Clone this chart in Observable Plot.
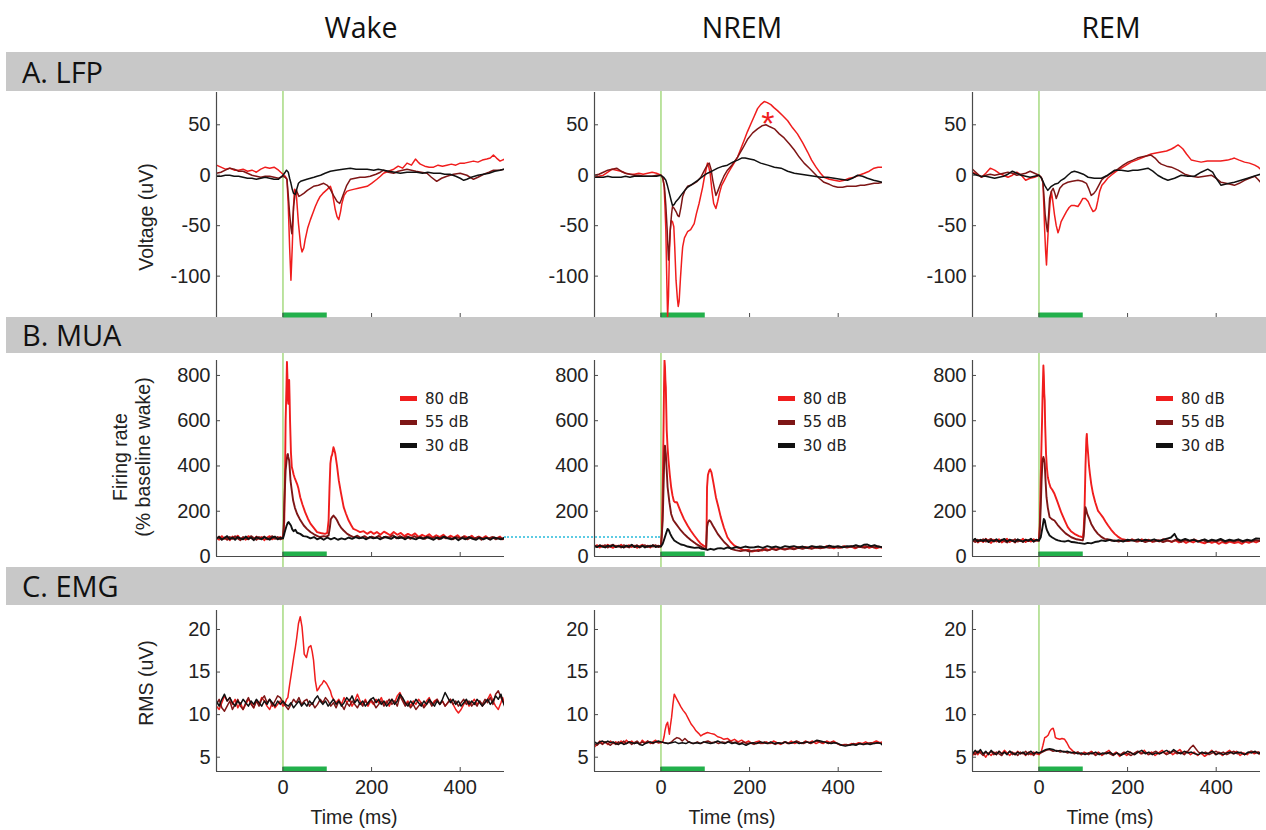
<!DOCTYPE html>
<html><head><meta charset="utf-8">
<script src="https://cdn.jsdelivr.net/npm/d3@7"></script>
<script src="https://cdn.jsdelivr.net/npm/@observablehq/plot@0.6"></script>
<style>
body{margin:0;background:#fff;}
#fig{position:relative;width:1266px;height:830px;overflow:hidden;font-family:"Liberation Sans",Arial,sans-serif;}
.band{position:absolute;left:6px;right:0;background:#c8c8c8;z-index:0;}
.band span{position:absolute;left:16px;top:50%;transform:translateY(-52%);font-family:"Open Sans";font-size:29px;color:#111;}
.head{position:absolute;top:8px;font-family:"Open Sans";font-size:28.5px;transform:translateX(-50%);color:#111;white-space:nowrap}
.panel{position:absolute;z-index:1;}
.panel svg{max-width:none !important;}
.ylab{position:absolute;font-size:19.5px;transform:translate(-50%,-50%) rotate(-90deg);white-space:nowrap;text-align:center;line-height:1.2;color:#222}
.xlab{position:absolute;font-size:19.5px;transform:translateX(-50%);color:#222;white-space:nowrap}
.legend{position:absolute;font-family:"DejaVu Sans";font-size:15px;color:#222;z-index:2}
.legend div{display:flex;align-items:center;height:23.5px;white-space:nowrap}
.legend i{display:inline-block;width:17px;height:5px;margin-right:8px}
.dots{position:absolute;height:0;border-top:2.5px dotted #5ccbe3;z-index:3}
</style></head>
<body><div id="fig"></div>
<script>
// ---------- data ----------
const STATES = ["Wake", "NREM", "REM"];
const ROW_TITLES = ["A. LFP", "B. MUA", "C. EMG"];
const LEVELS = ["80 dB", "55 dB", "30 dB"];
const LEVEL_COLORS = ["#f01d1d", "#7e1616", "#111111"];
const TIME_DOMAIN = [-150, 500];
const TIME_TICKS = [0, 200, 400];
const TIME_TICK_LABELS = ["0", "200", "400"];
const STIM = [0, 100];
const LFP_DOMAIN = [-141, 82];
const LFP_TICKS = [-100, -50, 0, 50];
const LFP_TICK_LABELS = ["-100", "-50", "0", "50"];
const MUA_DOMAIN = [0, 866];
const MUA_TICKS = [0, 200, 400, 600, 800];
const MUA_TICK_LABELS = ["0", "200", "400", "600", "800"];
const EMG_DOMAIN = [3.32, 22.23];
const EMG_TICKS = [5, 10, 15, 20];
const EMG_TICK_LABELS = ["5", "10", "15", "20"];
const BASELINE_WAKE = 84;
const LFP_NREM_STAR = [[241, 59]];

const lfpWake80 = [[-150,10],[-140,8],[-130,6],[-120,7],[-110,5],[-100,5],[-90,6],[-80,4],[-70,5],[-60,3],[-50,6],[-40,8],[-30,7],[-20,8],[-10,5],[0,1],[5,-1],[9,-4],[12,-30],[15,-71],[18,-104],[21,-71],[24,-30],[26,-14],[30,-18],[35,-48],[40,-70],[43,-76],[47,-72],[50,-64],[56,-52],[62,-44],[68,-37],[73,-31],[78,-26],[84,-21],[90,-18],[95,-16],[100,-14],[107,-11],[111,-16],[114,-24],[118,-34],[122,-41],[126,-44],[130,-36],[133,-28],[138,-20],[144,-16],[150,-15],[159,-14],[170,-13],[180,-12],[190,-11],[200,-8],[212,-4],[220,-1],[227,2],[238,4],[250,6],[260,9],[270,7],[280,12],[290,10],[299,16],[305,13],[310,11],[320,9],[330,8],[340,8],[350,10],[360,9],[370,10],[380,11],[390,10],[400,12],[410,12],[420,13],[430,14],[440,13],[450,15],[460,16],[468,17],[475,20],[482,17],[490,14],[495,15],[500,16]];
const lfpWake55 = [[-150,2],[-140,3],[-130,5],[-120,7],[-110,6],[-100,4],[-90,4],[-80,2],[-70,0],[-60,-1],[-50,-2],[-40,-1],[-30,-1],[-20,-2],[-10,-3],[0,-1],[5,-2],[9,-4],[12,-20],[15,-38],[18,-52],[20,-58],[22,-45],[24,-31],[27,-20],[30,-14],[33,-18],[36,-21],[40,-20],[47,-18],[55,-15],[62,-13],[69,-11],[80,-10],[92,-8],[100,-10],[107,-14],[114,-20],[122,-26],[128,-28],[132,-24],[137,-18],[144,-10],[152,-4],[163,-3],[174,-2],[185,-2],[197,-1],[210,1],[220,3],[227,5],[238,3],[250,2],[260,4],[270,5],[280,6],[290,5],[300,4],[312,3],[325,2],[335,-2],[347,-6],[358,-3],[370,-1],[385,1],[400,2],[415,0],[430,-4],[440,-2],[453,1],[465,3],[475,5],[488,5],[500,6]];
const lfpWake30 = [[-150,-1],[-140,-1],[-130,0],[-120,0],[-110,-1],[-100,-1],[-90,-2],[-80,-3],[-70,-3],[-60,-4],[-50,-3],[-40,-2],[-30,-3],[-20,-4],[-10,-4],[0,0],[5,3],[8,5],[12,3],[15,-3],[18,-8],[21,-14],[24,-18],[28,-19],[31,-14],[35,-8],[40,-6],[47,-5],[54,-4],[62,-3],[70,-2],[77,-1],[85,0],[95,2],[107,4],[120,5],[135,6],[152,7],[165,6],[177,6],[190,6],[205,5],[215,6],[227,5],[240,4],[252,3],[265,2],[280,3],[290,3],[302,3],[315,2],[327,3],[340,2],[355,2],[365,1],[377,1],[390,-1],[400,-3],[408,-5],[415,-4],[425,-2],[440,0],[453,1],[465,2],[478,4],[490,5],[500,6]];

const lfpNrem80 = [[-150,-2],[-140,-1],[-130,0],[-120,3],[-110,6],[-100,5],[-90,4],[-80,2],[-70,1],[-60,1],[-50,2],[-40,1],[-30,2],[-20,3],[-10,2],[0,0],[4,-2],[7,-10],[9,-30],[11,-54],[13,-100],[15,-140],[17,-120],[19,-78],[21,-55],[23,-45],[26,-46],[29,-51],[31,-70],[34,-104],[37,-122],[39,-130],[41,-125],[44,-102],[47,-82],[49,-71],[53,-62],[60,-56],[67,-54],[75,-48],[80,-38],[86,-28],[90,-20],[94,-12],[98,-2],[102,6],[105,12],[108,8],[111,2],[115,-15],[119,-28],[124,-33],[128,-26],[132,-18],[137,-10],[143,-5],[150,1],[158,7],[165,12],[173,18],[180,26],[188,35],[195,43],[203,51],[210,58],[218,66],[225,70],[233,73],[240,72],[248,70],[255,67],[263,64],[275,59],[286,54],[297,47],[308,41],[320,32],[331,23],[340,15],[350,8],[360,2],[368,-2],[380,-4],[391,-5],[403,-6],[414,-5],[425,-3],[436,-2],[447,0],[459,2],[470,4],[481,7],[490,8],[500,8]];
const lfpNrem55 = [[-150,0],[-140,1],[-130,3],[-120,5],[-110,6],[-100,7],[-90,4],[-80,2],[-70,1],[-60,0],[-50,0],[-40,-1],[-30,-1],[-20,-1],[-10,0],[0,0],[4,-3],[8,-12],[11,-30],[14,-54],[16,-75],[17,-84],[19,-70],[21,-54],[24,-38],[26,-31],[30,-33],[34,-36],[38,-40],[41,-41],[45,-32],[49,-21],[54,-15],[60,-11],[67,-10],[75,-8],[82,-6],[90,-2],[96,3],[102,8],[106,11],[109,12],[113,6],[117,-5],[121,-14],[124,-20],[128,-16],[135,-8],[142,-1],[150,5],[160,10],[173,18],[185,27],[196,36],[207,42],[218,46],[228,49],[237,50],[246,48],[256,46],[267,41],[278,37],[290,31],[301,25],[312,18],[323,12],[335,7],[346,2],[357,-3],[368,-7],[380,-9],[390,-11],[399,-12],[410,-12],[420,-11],[429,-11],[440,-11],[450,-10],[459,-10],[470,-9],[481,-8],[490,-8],[500,-7]];
const lfpNrem30 = [[-150,-2],[-140,-2],[-130,-2],[-120,-1],[-110,-2],[-100,-2],[-90,-2],[-80,-1],[-70,-2],[-60,-1],[-50,-1],[-40,-1],[-30,-1],[-20,-1],[-10,-1],[0,0],[6,-2],[11,-5],[15,-11],[19,-18],[23,-25],[26,-30],[30,-29],[34,-26],[40,-23],[45,-20],[52,-16],[60,-12],[70,-9],[83,-5],[95,-1],[105,2],[115,4],[128,7],[140,9],[150,10],[162,13],[173,15],[182,17],[190,17],[200,16],[211,15],[225,12],[241,10],[256,8],[271,7],[286,4],[301,2],[316,1],[331,0],[346,-1],[361,-2],[376,-2],[391,-3],[405,-4],[421,-5],[432,-3],[444,0],[455,-1],[466,-3],[480,-5],[490,-6],[500,-7]];

const lfpRem80 = [[-150,3],[-140,1],[-130,-2],[-120,2],[-110,7],[-100,5],[-90,2],[-80,0],[-70,-2],[-60,0],[-50,3],[-40,0],[-30,-5],[-20,-3],[-10,-2],[0,0],[5,-2],[9,-7],[11,-30],[13,-56],[15,-75],[17,-89],[19,-70],[22,-46],[25,-28],[28,-16],[31,-25],[35,-39],[39,-50],[43,-57],[46,-53],[50,-46],[56,-41],[62,-36],[68,-32],[73,-30],[80,-30],[88,-31],[94,-27],[99,-23],[105,-23],[111,-26],[116,-31],[122,-36],[126,-35],[129,-33],[133,-25],[137,-16],[142,-10],[148,-7],[155,-3],[163,0],[175,4],[186,7],[197,10],[208,13],[220,15],[231,17],[242,19],[253,21],[264,22],[276,23],[288,24],[299,26],[307,28],[314,30],[320,28],[325,26],[333,21],[344,15],[355,14],[366,13],[380,14],[396,14],[410,14],[426,15],[434,16],[441,17],[452,15],[464,13],[475,12],[487,10],[495,8],[500,6]];
const lfpRem55 = [[-150,6],[-140,2],[-130,-2],[-120,0],[-110,1],[-100,0],[-90,1],[-80,2],[-70,3],[-60,2],[-50,0],[-40,1],[-30,2],[-20,4],[-10,2],[0,0],[5,-2],[9,-7],[12,-25],[14,-39],[17,-50],[19,-56],[21,-45],[24,-23],[28,-16],[32,-13],[36,-18],[39,-23],[43,-18],[47,-13],[55,-9],[65,-7],[75,-6],[88,-5],[98,-6],[107,-8],[112,-13],[118,-20],[124,-18],[129,-15],[135,-10],[141,-5],[148,-2],[156,0],[167,3],[178,6],[190,10],[201,13],[212,15],[222,17],[231,18],[242,19],[253,20],[262,17],[270,13],[276,11],[288,9],[299,8],[314,5],[329,1],[344,-1],[359,-2],[374,-1],[389,0],[400,-3],[411,-7],[422,-8],[432,-9],[441,-10],[452,-8],[464,-5],[475,-3],[487,-1],[494,-4],[500,-7]];
const lfpRem30 = [[-150,2],[-140,0],[-130,-1],[-120,-1],[-110,-2],[-100,-3],[-90,-2],[-80,-1],[-70,1],[-60,4],[-50,2],[-40,0],[-30,-1],[-20,-2],[-10,-1],[0,0],[6,-3],[10,-7],[13,-10],[17,-13],[20,-15],[24,-13],[28,-11],[35,-9],[43,-8],[50,-5],[58,-3],[65,0],[73,3],[80,4],[88,3],[100,1],[111,-2],[125,-3],[141,-3],[155,0],[171,5],[186,5],[201,4],[212,5],[223,5],[235,6],[246,7],[257,4],[268,0],[280,-3],[291,-5],[306,-3],[321,0],[336,-1],[351,-1],[366,3],[381,6],[392,3],[400,-3],[411,-10],[420,-9],[430,-8],[441,-7],[456,-5],[471,-3],[485,-1],[500,1]];

const muaWake80 = [[-150,82],[-144,74],[-138,90],[-132,78],[-126,86],[-120,72],[-114,88],[-108,80],[-102,92],[-96,76],[-90,84],[-84,74],[-78,90],[-72,82],[-66,76],[-60,88],[-54,78],[-48,86],[-42,72],[-36,84],[-30,90],[-24,76],[-18,84],[-12,78],[-6,86],[0,80],[2,120],[3,160],[5,420],[6,600],[8,760],[9,860],[10,800],[11,700],[12,675],[13,740],[14,780],[15,700],[16,600],[17,530],[18,460],[20,395],[22,380],[24,362],[26,350],[28,340],[30,330],[32,320],[35,300],[39,262],[44,230],[50,196],[56,168],[62,145],[70,125],[77,108],[85,104],[95,100],[100,104],[103,160],[105,300],[107,410],[109,440],[111,450],[114,483],[116,470],[118,455],[122,400],[126,336],[131,280],[137,218],[142,190],[148,160],[154,138],[159,122],[166,116],[174,108],[182,112],[190,100],[198,110],[205,100],[212,108],[220,96],[228,110],[235,102],[242,94],[250,108],[258,96],[266,104],[274,90],[282,100],[290,92],[298,102],[306,86],[314,96],[322,88],[330,98],[338,84],[346,94],[354,86],[362,96],[370,82],[378,92],[386,84],[394,94],[402,80],[410,90],[418,82],[426,92],[434,78],[442,88],[450,80],[458,90],[466,76],[474,86],[482,80],[490,88],[496,76],[500,84]];
const muaWake55 = [[-150,78],[-144,88],[-138,76],[-132,84],[-126,74],[-120,86],[-114,78],[-108,90],[-102,80],[-96,72],[-90,86],[-84,80],[-78,76],[-72,90],[-66,82],[-60,74],[-54,86],[-48,80],[-42,88],[-36,76],[-30,82],[-24,90],[-18,78],[-12,86],[-6,76],[0,82],[2,150],[3,232],[5,330],[6,380],[8,420],[10,450],[11,453],[12,440],[14,424],[15,400],[17,336],[20,290],[23,247],[27,215],[32,188],[38,165],[47,137],[54,122],[62,108],[70,98],[78,90],[84,86],[92,90],[98,88],[103,93],[106,130],[108,165],[111,174],[114,181],[118,172],[122,160],[127,140],[132,125],[137,115],[145,100],[152,92],[160,85],[168,92],[176,82],[184,90],[192,80],[200,88],[208,82],[216,92],[224,80],[232,88],[240,84],[248,94],[256,80],[264,90],[272,82],[280,88],[288,78],[296,90],[304,82],[312,86],[320,78],[328,88],[336,80],[344,86],[352,76],[360,88],[368,80],[376,84],[384,76],[392,86],[400,80],[408,88],[416,76],[424,84],[432,80],[440,86],[448,74],[456,84],[464,80],[472,86],[480,76],[488,84],[496,78],[500,82]];
const muaWake30 = [[-150,80],[-144,86],[-138,74],[-132,82],[-126,90],[-120,76],[-114,84],[-108,74],[-102,86],[-96,80],[-90,76],[-84,88],[-78,78],[-72,84],[-66,72],[-60,86],[-54,80],[-48,76],[-42,86],[-36,80],[-30,74],[-24,84],[-18,88],[-12,76],[-6,82],[0,80],[3,100],[5,115],[8,135],[11,150],[13,152],[15,145],[18,137],[21,120],[24,112],[28,118],[32,105],[39,100],[46,90],[54,88],[62,80],[70,86],[77,76],[85,82],[92,74],[100,84],[108,76],[116,82],[124,74],[132,80],[140,76],[148,84],[156,78],[164,86],[172,80],[180,84],[188,76],[196,86],[204,80],[212,84],[220,76],[228,86],[236,82],[244,78],[252,88],[260,80],[268,84],[276,76],[284,86],[292,80],[300,76],[308,84],[316,78],[324,86],[332,80],[340,74],[348,84],[356,78],[364,88],[372,80],[380,76],[388,84],[396,72],[404,82],[412,76],[420,86],[428,78],[436,74],[444,84],[452,76],[460,82],[468,74],[476,84],[484,80],[492,76],[500,82]];

const muaNrem80 = [[-150,44],[-144,50],[-138,40],[-132,48],[-126,42],[-120,52],[-114,44],[-108,38],[-102,48],[-96,44],[-90,52],[-84,40],[-78,46],[-72,50],[-66,42],[-60,48],[-54,38],[-48,46],[-42,52],[-36,42],[-30,48],[-24,40],[-18,50],[-12,44],[-6,48],[0,44],[2,100],[4,306],[6,600],[7,760],[8,866],[9,840],[10,780],[11,748],[12,650],[13,557],[15,480],[17,424],[20,360],[23,306],[26,270],[29,245],[32,240],[36,240],[40,220],[45,196],[52,165],[60,137],[67,115],[75,93],[82,75],[90,56],[96,48],[102,41],[103,120],[104,306],[106,360],[109,380],[111,385],[114,372],[118,330],[124,262],[130,215],[135,174],[142,128],[150,85],[157,65],[165,49],[175,38],[188,27],[198,30],[205,22],[211,24],[220,30],[228,26],[236,34],[244,28],[252,36],[260,30],[268,38],[276,32],[286,34],[294,40],[302,34],[310,42],[318,36],[326,42],[334,36],[342,44],[350,38],[358,44],[366,38],[374,46],[382,40],[390,36],[398,44],[406,38],[414,46],[422,40],[430,44],[438,36],[446,44],[454,40],[462,46],[470,38],[478,44],[486,36],[494,42],[500,38]];
const muaNrem55 = [[-150,48],[-144,42],[-138,50],[-132,44],[-126,50],[-120,40],[-114,48],[-108,52],[-102,42],[-96,48],[-90,40],[-84,50],[-78,44],[-72,40],[-66,50],[-60,44],[-54,50],[-48,40],[-42,46],[-36,50],[-30,42],[-24,48],[-18,44],[-12,50],[-6,42],[0,46],[2,100],[4,160],[6,320],[8,468],[9,490],[10,470],[11,453],[13,380],[15,306],[19,240],[23,188],[28,160],[34,144],[40,128],[45,115],[52,100],[60,85],[68,72],[79,56],[88,46],[99,34],[102,36],[103,80],[104,130],[106,150],[109,160],[112,155],[117,137],[122,120],[128,100],[135,82],[143,63],[150,50],[158,34],[168,28],[180,24],[190,28],[200,22],[211,27],[220,24],[230,32],[240,26],[250,34],[260,28],[270,36],[280,30],[290,36],[300,32],[310,38],[320,34],[330,40],[340,34],[350,40],[360,36],[370,42],[380,38],[390,44],[400,38],[410,44],[420,40],[430,46],[440,40],[450,44],[460,38],[470,46],[480,40],[490,44],[500,41]];
const muaNrem30 = [[-150,46],[-144,42],[-138,48],[-132,44],[-126,40],[-120,48],[-114,44],[-108,50],[-102,42],[-96,46],[-90,44],[-84,40],[-78,48],[-72,44],[-66,52],[-60,42],[-54,46],[-48,42],[-42,48],[-36,40],[-30,46],[-24,44],[-18,50],[-12,42],[-6,46],[0,44],[4,56],[8,80],[12,105],[15,122],[18,115],[21,100],[25,85],[30,71],[37,62],[45,53],[52,50],[60,44],[68,41],[76,38],[84,40],[92,34],[100,32],[105,29],[112,34],[120,30],[128,36],[135,37],[142,34],[150,40],[160,36],[170,42],[180,38],[190,44],[200,40],[211,41],[220,44],[230,38],[240,46],[250,40],[260,44],[270,38],[280,46],[290,42],[300,46],[310,40],[320,44],[330,38],[340,46],[350,42],[361,44],[370,40],[380,48],[390,42],[400,46],[410,40],[420,46],[430,44],[440,50],[450,44],[458,52],[466,53],[474,46],[482,50],[490,44],[500,41]];

const muaRem80 = [[-150,66],[-144,76],[-138,62],[-132,72],[-126,64],[-120,78],[-114,68],[-108,60],[-102,74],[-96,66],[-90,76],[-84,62],[-78,70],[-72,78],[-66,64],[-60,72],[-54,62],[-48,74],[-42,68],[-36,78],[-30,64],[-24,72],[-18,66],[-12,76],[-6,70],[0,72],[2,150],[4,350],[6,520],[7,600],[8,700],[10,844],[11,800],[12,720],[13,690],[14,580],[16,453],[18,390],[20,350],[23,325],[26,306],[30,295],[35,277],[42,240],[50,196],[58,160],[65,130],[72,112],[80,100],[90,90],[99,85],[101,120],[103,218],[105,400],[107,520],[108,542],[109,500],[111,453],[113,400],[115,365],[118,320],[122,277],[127,240],[133,203],[138,190],[144,174],[150,155],[156,137],[163,118],[171,100],[178,88],[186,78],[194,74],[202,68],[210,76],[216,71],[224,66],[232,76],[240,68],[248,74],[256,64],[264,72],[272,66],[280,76],[291,71],[300,64],[308,72],[316,62],[324,70],[332,60],[340,68],[348,62],[356,70],[366,63],[374,58],[382,68],[390,60],[398,66],[406,56],[414,64],[422,58],[430,66],[441,59],[450,64],[458,56],[466,66],[474,60],[482,68],[490,62],[500,71]];
const muaRem55 = [[-150,72],[-144,64],[-138,74],[-132,68],[-126,76],[-120,66],[-114,72],[-108,78],[-102,66],[-96,72],[-90,64],[-84,74],[-78,68],[-72,62],[-66,74],[-60,68],[-54,76],[-48,66],[-42,72],[-36,64],[-30,74],[-24,68],[-18,76],[-12,66],[-6,72],[0,70],[2,120],[4,218],[6,340],[8,424],[10,440],[12,425],[13,410],[15,330],[17,262],[20,215],[24,174],[29,165],[35,159],[42,140],[50,122],[60,102],[73,85],[85,76],[99,71],[101,90],[103,150],[105,218],[107,205],[109,188],[113,170],[118,144],[125,120],[133,100],[140,88],[148,78],[156,76],[164,70],[171,71],[180,66],[190,72],[200,68],[210,74],[220,66],[230,72],[240,64],[250,70],[260,66],[270,72],[280,64],[290,70],[300,66],[310,74],[320,64],[330,72],[340,68],[350,76],[360,66],[370,72],[380,64],[390,70],[400,66],[410,72],[420,64],[430,70],[440,66],[450,72],[460,64],[470,70],[480,66],[490,72],[500,68]];
const muaRem30 = [[-150,70],[-144,78],[-138,66],[-132,74],[-126,68],[-120,76],[-114,64],[-108,72],[-102,68],[-96,76],[-90,66],[-84,72],[-78,78],[-72,66],[-66,74],[-60,70],[-54,64],[-48,76],[-42,70],[-36,66],[-30,74],[-24,70],[-18,78],[-12,66],[-6,74],[0,70],[4,85],[8,130],[11,166],[13,160],[15,140],[17,122],[20,108],[24,93],[30,84],[37,76],[43,71],[50,68],[58,66],[66,70],[74,64],[80,63],[88,60],[96,58],[103,56],[110,60],[118,58],[126,64],[134,66],[141,71],[150,68],[160,74],[170,68],[180,72],[190,66],[200,74],[210,70],[216,71],[224,76],[232,68],[240,74],[250,70],[260,76],[270,68],[280,74],[291,80],[298,84],[306,100],[312,78],[320,70],[330,78],[340,70],[350,74],[358,66],[366,71],[374,76],[382,68],[390,74],[400,70],[410,78],[420,68],[430,74],[440,70],[450,76],[460,68],[470,74],[480,70],[490,80],[500,78]];

const emgWake80 = [[-150,11],[-144,10.6],[-138,11.4],[-132,12.2],[-126,11.6],[-120,12],[-114,11.2],[-108,11.8],[-102,10.8],[-96,11.4],[-90,10.6],[-84,11.2],[-78,11.8],[-72,11.4],[-66,10.8],[-60,11.6],[-54,11.2],[-48,12],[-42,11.6],[-36,11],[-30,10.6],[-24,11.4],[-18,10.8],[-12,11.2],[-6,11.6],[0,11],[4,11.2],[8,11.8],[11,12],[15,13.5],[20,15.2],[24,16.6],[28,17.9],[31,19],[35,20.7],[39,21.5],[43,20.3],[46,18.5],[48,17.1],[53,16.7],[58,17.9],[63,18.1],[66,17.4],[69,16.4],[73,14],[77,12.8],[80,13],[84,13.4],[88,13.6],[92,14],[96,13.8],[99,13.6],[103,13.2],[107,12.8],[110,12.2],[114,11.8],[120,11.4],[126,11.8],[132,11.2],[138,12],[144,11.4],[150,11.8],[156,11],[162,11.6],[168,12.4],[174,11.6],[180,11.2],[186,11.8],[192,11],[198,11.6],[204,11.2],[210,11.8],[216,11.4],[222,12],[228,11.2],[234,11.6],[240,11],[246,11.8],[252,11.4],[258,12.2],[264,12.6],[270,11.8],[276,11.2],[282,11.6],[288,11],[294,11.6],[300,11.2],[306,11.8],[312,11.4],[318,11],[324,11.6],[330,12],[336,11.2],[342,11.6],[348,11.8],[354,11.2],[360,11.6],[366,11],[372,11.4],[378,11.8],[384,11.2],[390,10.6],[396,10.2],[402,10.6],[408,11.2],[414,11.6],[420,11],[426,11.4],[432,11.8],[438,11.2],[444,11.6],[450,11],[456,11.4],[462,11.8],[468,12.4],[474,11.6],[480,11],[486,10.6],[492,11.4],[496,12],[500,11.2]];
const emgWake55 = [[-150,11.2],[-144,11.8],[-138,10.8],[-132,10.4],[-126,11],[-120,11.6],[-114,10.6],[-108,11.2],[-102,11.8],[-96,11],[-90,10.6],[-84,11.4],[-78,12],[-72,11.2],[-66,10.8],[-60,11.6],[-54,11],[-48,11.8],[-42,12.2],[-36,11.4],[-30,11.8],[-24,11],[-18,11.6],[-12,12.2],[-6,12],[0,11.4],[6,11],[12,10.6],[18,11.2],[24,11.8],[30,11.4],[36,12],[42,11.2],[48,11.6],[54,11.8],[60,11],[66,11.4],[72,10.8],[78,11.2],[84,11.8],[90,11.4],[96,12],[102,11.6],[108,11],[114,11.4],[120,10.8],[126,11.6],[132,11.2],[138,10.6],[144,11.4],[150,11],[156,11.6],[162,11.2],[168,10.8],[174,11.4],[180,11],[186,11.6],[192,11.2],[198,11.8],[204,11.4],[210,10.8],[216,11.2],[222,11.6],[228,11],[234,11.4],[240,11.8],[246,11.2],[252,11.6],[258,11],[264,12.2],[270,11.6],[276,11],[282,11.4],[288,10.8],[294,11.2],[300,10.6],[306,11],[312,11.4],[318,10.8],[324,11.2],[330,11.6],[336,11],[342,11.4],[348,11.8],[354,11.2],[360,11.6],[366,11],[372,11.4],[378,11.8],[384,11.2],[390,11.6],[396,11],[402,11.4],[408,11.8],[414,11.2],[420,11.6],[426,11],[432,11.4],[438,11],[444,11.6],[450,11.2],[456,11.8],[462,11.4],[468,12],[474,11.2],[480,12.4],[486,12.8],[492,12],[496,11.6],[500,11.2]];
const emgWake30 = [[-150,11.6],[-144,11],[-138,11.8],[-132,12.4],[-126,11.6],[-120,12],[-114,11.4],[-108,11],[-102,11.6],[-96,11.2],[-90,11.8],[-84,11.4],[-78,11],[-72,11.6],[-66,11.2],[-60,11.8],[-54,11.4],[-48,11],[-42,11.6],[-36,11.2],[-30,11.8],[-24,11.4],[-18,11],[-12,11.6],[-6,11.2],[0,11.6],[6,11.2],[12,11],[18,11.4],[24,10.8],[30,11.2],[36,11.6],[42,11],[48,11.4],[54,11],[60,11.6],[66,11.2],[72,11.8],[78,12.2],[84,11.6],[90,11.2],[96,11.6],[102,11],[108,11.4],[114,11.8],[120,11.2],[126,11.6],[132,11],[138,11.4],[144,12],[150,11.6],[156,12.2],[162,11.4],[168,11.8],[174,11.2],[180,11.6],[186,11],[192,11.4],[198,11.8],[204,12],[210,11.4],[216,11.8],[222,11.2],[228,11.6],[234,11],[240,11.4],[246,11.8],[252,11.2],[258,11.6],[264,12.4],[270,12],[276,11.4],[282,11],[288,11.6],[294,11.2],[300,11.8],[306,11.4],[312,11],[318,11.6],[324,11.2],[330,11.8],[336,11.4],[342,11],[348,11.6],[354,11.2],[360,11.8],[366,12.6],[372,12],[378,11.4],[384,11.8],[390,11.2],[396,11.6],[402,11],[408,11.4],[414,11.8],[420,11.2],[426,11.6],[432,11.2],[438,11.8],[444,11.4],[450,11],[456,11.4],[462,11.8],[468,11.2],[474,11.6],[480,12.2],[486,11.8],[492,12.4],[496,11.6],[500,11]];

const emgNrem80 = [[-150,6.2],[-144,6.5],[-138,6.9],[-132,6.6],[-126,6.8],[-120,6.5],[-114,6.9],[-108,6.6],[-102,6.8],[-96,6.5],[-90,6.9],[-84,6.6],[-78,7],[-72,6.7],[-66,6.9],[-60,6.6],[-54,6.8],[-48,6.5],[-42,7],[-36,6.7],[-30,6.9],[-24,6.6],[-18,6.8],[-12,7],[-6,6.7],[0,6.7],[4,6.8],[7,7.4],[9,8.1],[12,8.8],[15,9.1],[17,8.4],[19,7.7],[21,8.6],[24,9.7],[27,11.2],[30,12.4],[33,12.1],[36,11.8],[40,11.4],[45,10.9],[50,10.5],[56,10.1],[62,9.5],[68,8.9],[74,8.5],[79,8.1],[85,7.8],[90,7.5],[96,7.7],[105,7.9],[112,7.8],[120,7.7],[128,7.4],[135,7.3],[142,7.1],[150,7.2],[158,6.9],[166,7.1],[174,6.8],[182,7],[190,6.7],[198,6.9],[206,6.6],[214,6.8],[222,6.9],[230,6.6],[238,6.8],[246,6.6],[254,6.9],[262,6.7],[270,6.5],[278,6.8],[286,6.6],[294,6.9],[302,6.6],[310,6.8],[318,6.6],[326,6.9],[334,6.7],[342,6.9],[350,6.6],[358,6.8],[366,6.6],[374,6.9],[382,6.7],[390,6.9],[398,6.6],[406,6.4],[414,6.5],[422,6.4],[430,6.6],[438,6.5],[446,6.7],[454,6.6],[462,6.8],[470,6.6],[478,6.7],[486,6.9],[494,6.7],[500,6.8]];
const emgNrem55 = [[-150,6.6],[-144,6.4],[-138,6.7],[-132,6.5],[-126,6.8],[-120,6.6],[-114,6.4],[-108,6.7],[-102,6.5],[-96,6.8],[-90,6.6],[-84,6.9],[-78,6.6],[-72,6.8],[-66,6.5],[-60,6.7],[-54,6.9],[-48,6.6],[-42,6.8],[-36,6.6],[-30,6.9],[-24,6.7],[-18,6.6],[-12,6.8],[-6,6.7],[0,6.8],[8,6.7],[16,6.6],[24,6.8],[30,7.1],[36,7.3],[42,7.2],[48,6.9],[54,7.2],[60,6.9],[66,6.7],[74,6.6],[82,6.8],[90,6.6],[98,6.8],[106,6.9],[114,6.7],[122,6.8],[130,6.6],[138,6.8],[146,6.7],[154,6.9],[162,6.7],[170,6.8],[178,6.6],[186,6.8],[194,6.6],[202,6.7],[210,6.5],[218,6.7],[226,6.6],[234,6.8],[242,6.6],[250,6.7],[258,6.5],[266,6.7],[274,6.6],[282,6.8],[290,6.6],[298,6.7],[306,6.9],[314,6.7],[322,6.6],[330,6.8],[338,6.6],[346,6.8],[354,6.9],[362,6.7],[370,6.8],[378,6.6],[386,6.8],[394,6.7],[402,6.5],[410,6.4],[418,6.5],[426,6.4],[434,6.6],[442,6.5],[450,6.6],[458,6.5],[466,6.6],[474,6.7],[482,6.6],[490,6.7],[500,6.6]];
const emgNrem30 = [[-150,6.8],[-144,6.6],[-138,6.8],[-132,6.9],[-126,6.7],[-120,6.9],[-114,6.7],[-108,6.8],[-102,6.6],[-96,6.5],[-90,6.7],[-84,6.5],[-78,6.6],[-72,6.8],[-66,6.7],[-60,6.6],[-54,6.7],[-48,6.5],[-42,6.4],[-36,6.6],[-30,6.7],[-24,6.8],[-18,6.7],[-12,6.8],[-6,6.9],[0,6.8],[8,6.7],[16,6.6],[24,6.7],[32,6.8],[40,6.6],[48,6.7],[56,6.6],[64,6.8],[72,6.6],[80,6.7],[88,6.6],[96,6.8],[104,6.7],[112,6.6],[120,6.7],[128,6.9],[136,6.7],[144,6.6],[152,6.8],[160,6.6],[168,6.7],[176,6.5],[184,6.6],[192,6.4],[200,6.6],[208,6.7],[216,6.6],[224,6.8],[232,6.7],[240,6.6],[248,6.8],[256,6.6],[264,6.7],[272,6.6],[280,6.8],[288,6.6],[296,6.7],[304,6.8],[312,6.6],[320,6.7],[328,6.8],[336,6.7],[344,6.8],[352,7],[360,6.9],[368,6.8],[376,6.7],[384,6.6],[392,6.7],[400,6.6],[408,6.4],[416,6.3],[424,6.4],[432,6.5],[440,6.4],[448,6.6],[456,6.5],[464,6.6],[472,6.5],[480,6.6],[488,6.7],[496,6.6],[500,6.4]];

const emgRem80 = [[-150,5.2],[-144,5.6],[-138,5.3],[-132,5.7],[-126,5.4],[-120,5],[-114,5.5],[-108,5.2],[-102,5.6],[-96,5.3],[-90,5.7],[-84,5.4],[-78,5.8],[-72,5.5],[-66,5.2],[-60,5.6],[-54,5.3],[-48,5.7],[-42,5.4],[-36,5.5],[-30,5.2],[-24,5.6],[-18,5.3],[-12,5.6],[-6,5.4],[0,5.3],[5,5.6],[9,6.4],[13,7.3],[17,7.4],[21,7.6],[24,8],[28,8.3],[32,8.4],[35,7.9],[37,7.3],[41,7.2],[47,7.1],[52,7.2],[58,7.1],[63,6.7],[69,6.1],[75,5.8],[81,5.5],[88,5.6],[95,5.3],[102,5.6],[110,5.4],[118,5.7],[126,5.3],[134,5.6],[142,5.2],[150,5.5],[158,5.8],[166,5.3],[174,5.6],[182,5.1],[190,5.5],[198,5.2],[206,5.6],[214,5.3],[222,5.7],[230,5.4],[238,5.8],[246,5.3],[254,5.6],[262,5.2],[270,5.5],[278,5.8],[286,5.4],[294,5.7],[302,5.3],[310,5.6],[318,5.9],[326,5.4],[334,5.7],[342,5.3],[350,5.6],[358,5.2],[366,5.5],[374,5.1],[382,5.4],[390,5.8],[398,5.3],[406,5.6],[414,5.2],[422,5.5],[430,5.8],[438,5.4],[446,5.7],[454,5.2],[462,5.5],[470,5.3],[478,5.7],[486,5.4],[494,5.6],[500,5.3]];
const emgRem55 = [[-150,5.6],[-144,5.3],[-138,5.7],[-132,5.5],[-126,5.2],[-120,5.6],[-114,5.4],[-108,5.7],[-102,5.3],[-96,5.6],[-90,5.4],[-84,5.2],[-78,5.6],[-72,5.4],[-66,5.7],[-60,5.3],[-54,5.5],[-48,5.2],[-42,5.6],[-36,5.4],[-30,5.7],[-24,5.3],[-18,5.5],[-12,5.2],[-6,5.6],[0,5.4],[8,5.6],[16,5.8],[24,5.9],[32,5.7],[40,5.8],[48,5.6],[56,5.7],[64,5.5],[72,5.6],[80,5.4],[88,5.6],[96,5.3],[104,5.5],[112,5.3],[120,5.6],[128,5.2],[136,5.5],[144,5.3],[152,5.6],[160,5.4],[168,5.2],[176,5.5],[184,5.3],[192,5.6],[200,5.4],[208,5.2],[216,5.5],[224,5.7],[232,5.4],[240,5.6],[248,5.3],[256,5.5],[264,5.7],[272,5.4],[280,5.6],[288,5.3],[296,5.5],[304,5.7],[312,5.4],[320,5.6],[328,5.3],[336,5.7],[342,6.1],[348,6.4],[354,6],[360,5.6],[368,5.4],[376,5.6],[384,5.3],[392,5.5],[400,5.7],[408,5.4],[416,5.6],[424,5.3],[432,5.5],[440,5.7],[448,5.4],[456,5.6],[464,5.3],[472,5.5],[480,5.7],[488,5.5],[496,5.6],[500,5.4]];
const emgRem30 = [[-150,5.4],[-144,5.8],[-138,5.5],[-132,5.9],[-126,5.4],[-120,5.7],[-114,5.3],[-108,5.8],[-102,5.5],[-96,5.3],[-90,5.7],[-84,5.4],[-78,5.6],[-72,5.3],[-66,5.7],[-60,5.5],[-54,5.3],[-48,5.6],[-42,5.4],[-36,5.6],[-30,5.3],[-24,5.5],[-18,5.7],[-12,5.4],[-6,5.6],[0,5.5],[8,5.7],[16,5.9],[24,6],[32,5.9],[40,5.7],[48,5.8],[56,5.6],[64,5.7],[72,5.5],[80,5.6],[88,5.4],[96,5.5],[104,5.3],[112,5.5],[120,5.4],[128,5.6],[136,5.3],[144,5.5],[152,5.4],[160,5.6],[168,5.3],[176,5.5],[184,5.2],[192,5.4],[200,5.7],[208,5.5],[216,5.3],[224,5.6],[232,5.8],[240,5.4],[248,5.6],[256,5.3],[264,5.5],[272,5.4],[280,5.6],[288,5.8],[296,5.5],[304,5.9],[312,5.6],[320,5.4],[328,5.7],[336,5.5],[344,5.6],[352,5.4],[360,5.3],[368,5.6],[376,5.4],[384,5.5],[392,5.7],[400,5.3],[408,5.5],[416,5.3],[424,5.5],[432,5.6],[440,5.4],[448,5.6],[456,5.5],[464,5.3],[472,5.6],[480,5.5],[488,5.7],[496,5.4],[500,5.6]];

// ---------- layout (pixels) ----------
const COL_LEFT = [216, 594, 972];
const PLOT_W = 288;
const ML = 72, MR = 6;
const BANDS = [[52, 91], [317, 353], [567, 605]];
const ROWCFG = [
  {svgTop: 91, svgBottom: 317, mt: 1, mb: 0, domain: LFP_DOMAIN, ticks: LFP_TICKS, labels: LFP_TICK_LABELS, sw: 1.5, baseLine: false,
   series: [[lfpWake80, lfpWake55, lfpWake30], [lfpNrem80, lfpNrem55, lfpNrem30], [lfpRem80, lfpRem55, lfpRem30]]},
  {svgTop: 353, svgBottom: 567, mt: 7, mb: 11, domain: MUA_DOMAIN, ticks: MUA_TICKS, labels: MUA_TICK_LABELS, sw: 1.9, baseLine: true,
   series: [[muaWake80, muaWake55, muaWake30], [muaNrem80, muaNrem55, muaNrem30], [muaRem80, muaRem55, muaRem30]]},
  {svgTop: 605, svgBottom: 830, mt: 5, mb: 59, domain: EMG_DOMAIN, ticks: EMG_TICKS, labels: EMG_TICK_LABELS, sw: 1.5, baseLine: true,
   series: [[emgWake80, emgWake55, emgWake30], [emgNrem80, emgNrem55, emgNrem30], [emgRem80, emgRem55, emgRem30]]}
];

const fig = document.getElementById("fig");
function add(cls, css, html) {
  const d = document.createElement("div");
  d.className = cls; Object.assign(d.style, css); if (html != null) d.innerHTML = html;
  fig.appendChild(d); return d;
}

// column headers
const HEAD_X = [361, 742, 1111];
STATES.forEach((s, i) => add("head", {left: HEAD_X[i] + "px"}, s));
// bands
BANDS.forEach(([t, b], i) => add("band", {top: t + "px", height: (b - t) + "px"}, `<span>${ROW_TITLES[i]}</span>`));

const GREEN_LINE = "#a6da80", GREEN_BAR = "#22b04b", AXIS = "#4a4a4a";
const plots = [];
ROWCFG.forEach((row, r) => {
  plots[r] = [];
  const h = row.svgBottom - row.svgTop;
  COL_LEFT.forEach((left, c) => {
    const last = r === ROWCFG.length - 1;
    const marks = [
      Plot.ruleX([0], {stroke: GREEN_LINE, strokeWidth: 1.5, insetTop: -row.mt, insetBottom: last ? 0 : -row.mb}),
      Plot.ruleY([row.domain[0]], {x1: STIM[0], x2: STIM[1], stroke: GREEN_BAR, strokeWidth: 5, dy: -2.5})
    ];
    row.series[c].forEach((pairs, i) => {
      marks.push(Plot.line(pairs, {x: d => d[0], y: d => d[1], stroke: LEVEL_COLORS[i], strokeWidth: row.sw, clip: true}));
    });
    if (r === 0 && c === 1) {
      marks.push(Plot.text(LFP_NREM_STAR, {x: d => d[0], y: d => d[1], text: () => "*", fill: LEVEL_COLORS[0], fontSize: 34, dy: 8}));
    }
    marks.push(Plot.ruleX([TIME_DOMAIN[0]], {stroke: AXIS, strokeWidth: 1.2}));
    if (row.baseLine) marks.push(Plot.ruleY([row.domain[0]], {stroke: AXIS, strokeWidth: 1.2}));
    marks.push(
      Plot.axisY(row.ticks, {tickSize: -4, tickPadding: 10, fontSize: 20, color: "#222", stroke: AXIS,
        tickFormat: d => row.labels[row.ticks.indexOf(d)]}),
      Plot.axisX(TIME_TICKS, {tickSize: -4, tickPadding: 12, fontSize: 20, color: "#222", stroke: AXIS,
        tickFormat: last ? (d => TIME_TICK_LABELS[TIME_TICKS.indexOf(d)]) : (() => "")})
    );
    const p = Plot.plot({
      width: ML + PLOT_W + MR, height: h,
      marginLeft: ML, marginRight: MR, marginTop: row.mt, marginBottom: row.mb,
      x: {domain: TIME_DOMAIN},
      y: {domain: row.domain},
      style: {fontFamily: "'Liberation Sans', Arial, sans-serif", fontSize: "20px", background: "transparent", overflow: "visible", maxWidth: "none"},
      marks
    });
    const wrap = add("panel", {left: (left - ML) + "px", top: row.svgTop + "px", width: (ML + PLOT_W + MR) + "px", height: h + "px"});
    wrap.appendChild(p);
    plots[r][c] = {p, left: left - ML, top: row.svgTop};
  });
});

// y-axis titles
add("ylab", {left: "147px", top: "217px"}, "Voltage (uV)");
add("ylab", {left: "132px", top: "457px"}, "Firing rate<br>(% baseline wake)");
add("ylab", {left: "147px", top: "683px"}, "RMS (uV)");
// x-axis titles
COL_LEFT.forEach(l => add("xlab", {left: (l + 138) + "px", top: "806px"}, "Time (ms)"));

// legends in MUA panels
COL_LEFT.forEach(l => {
  const lg = add("legend", {left: (l + 184) + "px", top: "387px"});
  lg.innerHTML = LEVELS.map((t, i) => `<div><i style="background:${LEVEL_COLORS[i]}"></i>${t}</div>`).join("");
});

// dotted baseline (wake) line from Wake MUA panel to NREM stimulus onset
{
  const a = plots[1][0], b = plots[1][1];
  const y = a.top + a.p.scale("y").apply(BASELINE_WAKE);
  const x1 = a.left + a.p.scale("x").apply(TIME_DOMAIN[1]);
  const x2 = b.left + b.p.scale("x").apply(0);
  add("dots", {left: x1 + "px", top: (y - 1) + "px", width: (x2 - x1) + "px"});
}
</script>
</body></html>
